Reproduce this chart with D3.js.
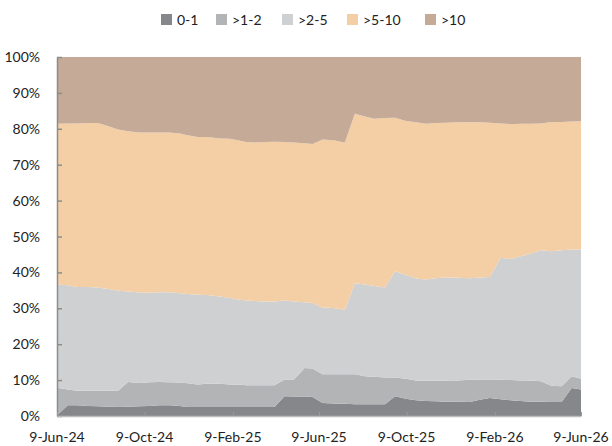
<!DOCTYPE html>
<html>
<head>
<meta charset="utf-8">
<script src="https://cdn.jsdelivr.net/npm/d3@7"></script>
<style>
  body { margin: 0; background: #fff; }
  svg text { font-family: Lato, "Open Sans", sans-serif; fill: #222; }
</style>
</head>
<body>
<svg id="chart" width="612" height="446"></svg>
<script>
// dates of each observation
var dates = ["2024-06-09","2024-06-24","2024-07-07","2024-07-22","2024-08-05","2024-08-22","2024-09-02","2024-09-16",
  "2024-10-02","2024-10-16","2024-10-30","2024-11-13","2024-11-27","2024-12-08","2024-12-22","2025-01-04",
  "2025-01-22","2025-02-05","2025-02-19","2025-02-28","2025-03-11","2025-03-25","2025-04-08","2025-04-22",
  "2025-05-05","2025-05-20","2025-05-31","2025-06-14","2025-06-29","2025-07-15","2025-07-29","2025-08-12",
  "2025-08-25","2025-09-09","2025-09-23","2025-10-08","2025-10-22","2025-11-05","2025-11-19","2025-12-03",
  "2025-12-19","2026-01-05","2026-01-19","2026-02-02","2026-02-17","2026-03-03","2026-03-17","2026-03-31",
  "2026-04-14","2026-04-29","2026-05-13","2026-05-27","2026-06-09"]

var seriesNames = ["0-1", ">1-2", ">2-5", ">5-10", ">10"]

// share of each bucket, in %
var s01 = [0.2,3.0,3.0,2.8,2.7,2.6,2.5,2.6,2.7,2.8,3.0,3.0,2.8,2.5,2.5,2.5,2.5,2.5,2.5,2.5,2.5,2.5,2.5,5.5,5.4,5.4,5.3,
  3.6,3.5,3.4,3.3,3.3,3.3,3.3,5.5,4.8,4.4,4.2,4.1,4.0,4.0,3.9,4.5,5.0,4.7,4.4,4.2,4.0,4.0,3.9,3.9,7.8,7.4]
var s12 = [7.7,4.4,4.0,4.2,4.3,4.4,4.5,6.9,6.5,6.6,6.5,6.4,6.5,6.6,6.3,6.5,6.5,6.3,6.2,6.1,6.1,6.1,6.1,4.7,4.8,8.0,7.9,
  8.0,8.1,8.2,8.3,7.8,7.6,7.4,5.2,5.6,5.5,5.6,5.7,5.9,5.9,6.2,5.7,5.2,5.4,5.6,5.7,5.9,5.7,4.5,4.4,3.3,3.0]
var s25 = [28.7,29.0,28.9,28.9,28.8,28.3,27.9,25.2,25.2,24.9,25.0,25.1,24.9,24.9,25.0,24.7,24.3,24.1,23.7,23.6,23.4,23.3,23.3,
  22.0,21.7,18.3,18.3,18.6,18.5,18.0,25.4,25.5,25.3,25.1,29.6,28.9,28.4,28.2,28.6,28.7,28.6,28.3,28.4,28.5,
  34.0,33.7,34.6,35.3,36.5,37.5,37.9,35.3,36.0]
var s510 = [44.8,45.1,45.6,45.7,45.8,45.3,44.9,44.6,44.6,44.7,44.5,44.5,44.5,44.2,43.9,44.0,44.0,44.3,44.3,44.1,44.2,44.4,44.5,
  44.1,44.3,44.3,44.3,46.8,46.7,46.6,47.2,46.8,46.6,47.2,42.8,42.9,43.5,43.4,43.2,43.1,43.3,43.4,43.2,43.0,
  37.4,37.6,36.9,36.2,35.3,36.0,35.7,35.6,35.7]
var s10 = [18.6,18.5,18.5,18.4,18.4,19.4,20.2,20.7,21.0,21.0,21.0,21.0,21.3,21.8,22.3,22.3,22.7,22.8,23.3,23.7,23.8,23.7,23.6,
  23.7,23.8,24.0,24.2,23.0,23.2,23.8,15.8,16.6,17.2,17.0,16.9,17.8,18.2,18.6,18.4,18.3,18.2,18.2,18.2,18.3,
  18.5,18.7,18.6,18.6,18.5,18.1,18.1,18.0,17.9]

var colors = ["#85878a", "#b3b4b6", "#cfd0d2", "#f4cfa6", "#c4aa97"]

var xTicks = ["2024-06-09","2024-10-09","2025-02-09","2025-06-09","2025-10-09","2026-02-09","2026-06-09"]
var yTicks = [0, 10, 20, 30, 40, 50, 60, 70, 80, 90, 100]

var parse = d3.timeParse("%Y-%m-%d")
var fmt = d3.timeFormat("%-d-%b-%y")

var plotLeft = 57, plotRight = 581, plotTop = 57, plotBottom = 416

var rows = dates.map(function(d, i) {
  var r = { date: parse(d) }
  r[seriesNames[0]] = s01[i]
  r[seriesNames[1]] = s12[i]
  r[seriesNames[2]] = s25[i]
  r[seriesNames[3]] = s510[i]
  r[seriesNames[4]] = s10[i]
  return r
})

var x = d3.scaleTime()
  .domain([parse(xTicks[0]), parse(xTicks[xTicks.length-1])])
  .range([plotLeft, plotRight])
var y = d3.scaleLinear().domain([0, 100]).range([plotBottom, plotTop])

var stacked = d3.stack().keys(seriesNames).offset(d3.stackOffsetExpand)(rows)

var area = d3.area()
  .x(function(d) { return x(d.data.date) })
  .y0(function(d) { return y(d[0] * 100) })
  .y1(function(d) { return y(d[1] * 100) })

var svg = d3.select("#chart")

svg.append("g").selectAll("path")
  .data(stacked)
  .join("path")
  .attr("d", area)
  .attr("fill", function(d, i) { return colors[i] })

// y axis, ticks pointing inside
var yAxis = svg.append("g")
  .attr("transform", "translate(" + plotLeft + ",0)")
  .call(d3.axisRight(y).tickValues(yTicks).tickSize(5).tickSizeOuter(0).tickFormat(""))
yAxis.select(".domain").attr("stroke", "#8c8c8c").attr("stroke-width", 1.5)
yAxis.selectAll(".tick line").attr("stroke", "#8c8c8c").attr("stroke-width", 1.5)

svg.append("g").selectAll("text")
  .data(yTicks)
  .join("text")
  .attr("x", 40)
  .attr("y", function(d) { return y(d) + 5 })
  .attr("text-anchor", "end")
  .style("font-size", "14px")
  .text(function(d) { return d + "%" })

// x axis
var xAxis = svg.append("g")
  .attr("transform", "translate(0," + plotBottom + ")")
  .call(d3.axisTop(x).tickValues(xTicks.map(parse)).tickSize(4).tickSizeOuter(0).tickFormat(""))
xAxis.select(".domain").attr("stroke", "#bdbdbd").attr("stroke-width", 1.5)
xAxis.selectAll(".tick line").attr("stroke", "#9a9a9a")

svg.append("g").selectAll("text")
  .data(xTicks)
  .join("text")
  .attr("x", function(d) { return x(parse(d)) })
  .attr("y", 442)
  .attr("text-anchor", "middle")
  .style("font-size", "14px")
  .text(function(d) { return fmt(parse(d)) })

// legend
var legendX = [161, 216, 282, 347, 425]
var legend = svg.append("g").selectAll("g")
  .data(seriesNames)
  .join("g")
  .attr("transform", function(d, i) { return "translate(" + legendX[i] + ",14)" })
legend.append("rect")
  .attr("width", 11).attr("height", 11)
  .attr("fill", function(d, i) { return colors[i] })
legend.append("text")
  .attr("x", 16).attr("y", 11)
  .style("font-size", "14px")
  .text(function(d) { return d })
</script>
</body>
</html>
